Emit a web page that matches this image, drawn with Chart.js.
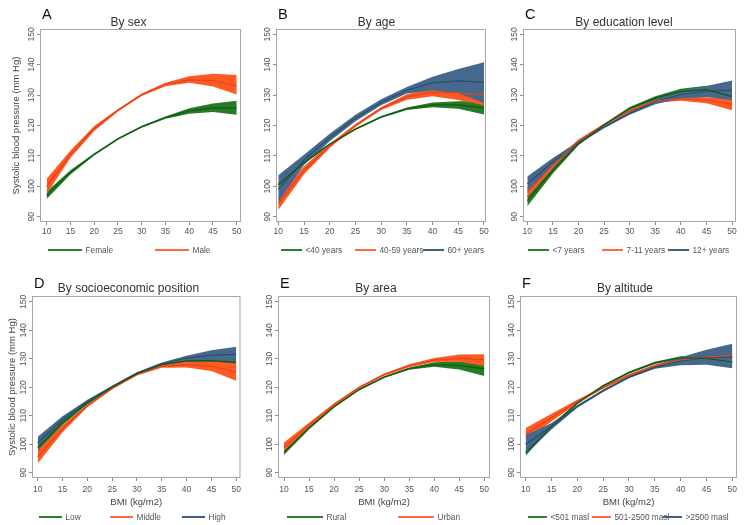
<!DOCTYPE html>
<html><head><meta charset="utf-8">
<script src="https://cdn.jsdelivr.net/npm/chart.js@4"></script>
<style>
html,body{margin:0;padding:0;background:#fff;}
body{width:747px;height:525px;position:relative;overflow:hidden;font-family:"Liberation Sans",Arial,sans-serif;}
canvas{position:absolute;}
.txt{position:absolute;white-space:nowrap;line-height:1;}
.leg{position:absolute;white-space:nowrap;font-size:8.3px;color:#555;line-height:10px;}
.legline{position:absolute;height:1.3px;}
</style></head><body>
<script>
// ---------- DATA ----------
const bmi = [10, 15, 20, 25, 30, 35, 40, 45, 50];
const xTicks = [10, 15, 20, 25, 30, 35, 40, 45, 50];
const yTicks = [90, 100, 110, 120, 130, 140, 150];

// A: By sex
const sexNames = ['Female', 'Male'];
const femaleMid = [97.0, 104.6, 110.5, 115.6, 119.6, 122.6, 124.8, 125.8, 125.8];
const femaleLo  = [95.8, 103.9, 110.1, 115.3, 119.3, 122.2, 123.9, 124.4, 123.5];
const femaleHi  = [98.3, 105.3, 110.9, 115.9, 119.9, 123.0, 125.7, 127.2, 128.1];
const maleMid   = [100.0, 110.5, 119.0, 125.0, 130.1, 133.5, 135.0, 134.8, 133.0];
const maleLo    = [97.5, 109.3, 118.2, 124.6, 129.7, 132.9, 134.1, 132.8, 130.2];
const maleHi    = [102.5, 111.8, 119.8, 125.4, 130.5, 134.1, 136.2, 137.0, 136.6];

// B: By age
const ageNames = ['<40 years', '40-59 years', '60+ years'];
const ageYMid = [100.5, 107.8, 113.8, 118.8, 122.8, 125.5, 126.8, 126.8, 125.8];
const ageYLo  = [99.8, 107.3, 113.4, 118.5, 122.5, 125.1, 126.0, 125.5, 123.6];
const ageYHi  = [101.2, 108.3, 114.2, 119.1, 123.1, 125.9, 127.6, 128.0, 128.0];
const ageMMid = [94.3, 105.3, 113.3, 120.0, 125.6, 129.4, 131.0, 130.8, 130.0];
const ageMLo  = [92.2, 104.0, 112.6, 119.5, 125.1, 128.5, 129.6, 128.4, 126.7];
const ageMHi  = [96.5, 106.6, 114.0, 120.5, 126.1, 130.3, 132.4, 133.2, 133.3];
const ageOMid = [99.0, 108.7, 116.0, 122.4, 127.6, 131.6, 134.0, 134.7, 134.2];
const ageOLo  = [94.8, 107.0, 114.8, 121.4, 126.7, 130.5, 131.6, 130.6, 127.4];
const ageOHi  = [103.6, 110.4, 117.3, 123.5, 128.6, 132.7, 136.0, 138.6, 140.8];

// C: By education level
const eduNames = ['<7 years', '7-11 years', '12+ years'];
const eduLMid = [95.3, 105.3, 114.0, 120.2, 125.6, 129.0, 131.2, 131.8, 129.5];
const eduLLo  = [93.4, 104.2, 113.5, 119.8, 125.1, 128.4, 130.3, 130.5, 126.5];
const eduLHi  = [97.2, 106.4, 114.5, 120.6, 126.1, 129.6, 132.1, 133.1, 132.6];
const eduMMid = [98.0, 107.0, 115.0, 120.3, 124.8, 128.0, 128.8, 128.3, 127.0];
const eduMLo  = [96.4, 106.0, 114.6, 120.0, 124.4, 127.5, 128.1, 127.3, 125.0];
const eduMHi  = [99.6, 108.0, 115.4, 120.6, 125.2, 128.5, 129.5, 129.3, 129.0];
const eduHMid = [100.8, 108.0, 114.3, 119.5, 124.0, 127.8, 130.2, 131.3, 131.6];
const eduHLo  = [98.5, 106.8, 113.8, 119.1, 123.5, 127.0, 128.9, 129.4, 128.4];
const eduHHi  = [103.2, 109.3, 114.8, 119.9, 124.5, 128.6, 131.5, 133.0, 134.8];

// D: By socioeconomic position
const sepNames = ['Low', 'Middle', 'High'];
const sepLMid = [98.8, 107.8, 114.5, 120.0, 124.8, 128.0, 129.3, 129.4, 128.8];
const sepLLo  = [97.0, 106.8, 114.0, 119.7, 124.5, 127.6, 128.6, 128.4, 127.0];
const sepLHi  = [100.6, 108.8, 115.0, 120.3, 125.1, 128.4, 130.0, 130.4, 130.6];
const sepMMid = [95.5, 105.5, 113.5, 119.6, 124.5, 127.4, 128.0, 127.4, 125.4];
const sepMLo  = [93.2, 104.2, 113.0, 119.3, 124.2, 126.9, 127.0, 125.7, 122.3];
const sepMHi  = [97.8, 106.8, 114.0, 119.9, 124.8, 127.9, 129.0, 129.1, 128.5];
const sepHMid = [100.5, 108.8, 115.0, 120.3, 125.0, 128.3, 130.3, 131.3, 131.6];
const sepHLo  = [98.8, 107.9, 114.5, 120.0, 124.7, 127.9, 129.5, 129.6, 128.8];
const sepHHi  = [102.6, 109.8, 115.6, 120.6, 125.3, 128.7, 131.1, 133.0, 134.3];

// E: By area
const areaNames = ['Rural', 'Urban'];
const ruralMid = [97.3, 105.8, 113.2, 119.2, 123.6, 126.6, 128.0, 127.7, 126.5];
const ruralLo  = [96.2, 105.2, 112.8, 118.9, 123.3, 126.2, 127.2, 126.3, 124.0];
const ruralHi  = [98.4, 106.4, 113.6, 119.5, 123.9, 127.0, 128.8, 129.1, 129.0];
const urbanMid = [98.9, 106.8, 113.9, 119.9, 124.5, 127.6, 129.6, 130.2, 129.7];
const urbanLo  = [97.3, 105.9, 113.4, 119.5, 124.1, 127.1, 128.9, 129.0, 127.5];
const urbanHi  = [100.6, 107.6, 114.4, 120.3, 124.9, 128.1, 130.3, 131.5, 131.6];

// F: By altitude
const altNames = ['<501 masl', '501-2500 masl', '>2500 masl'];
const altLMid = [97.0, 106.3, 114.5, 120.5, 125.2, 128.6, 130.4, 130.2, 128.9];
const altLLo  = [96.0, 105.8, 114.1, 120.1, 124.8, 128.2, 129.9, 129.3, 127.4];
const altLHi  = [98.2, 106.8, 114.9, 120.9, 125.6, 129.0, 130.9, 131.1, 130.4];
const altMMid = [103.5, 109.3, 115.0, 119.9, 124.2, 127.6, 129.6, 130.6, 131.2];
const altMLo  = [101.5, 108.0, 114.4, 119.5, 123.8, 127.2, 129.0, 129.5, 129.0];
const altMHi  = [105.7, 110.7, 115.6, 120.3, 124.6, 128.0, 130.2, 131.7, 133.3];
const altHMid = [100.0, 106.3, 113.3, 118.8, 123.6, 127.0, 129.3, 130.5, 130.6];
const altHLo  = [96.5, 105.2, 112.8, 118.4, 123.2, 126.5, 127.8, 127.9, 126.7];
const altHHi  = [103.2, 107.5, 113.8, 119.2, 124.0, 127.5, 130.6, 133.2, 135.3];

// ---------- STYLE ----------
const FONT = '"Liberation Sans", Arial, sans-serif';
const GREEN = {fill: '#267b26', line: '#145a14', leg: '#2f7f2f'};
const ORANGE = {fill: '#ff5a23', line: '#e2441b', leg: '#ff6a3f'};
const BLUE = {fill: '#45698d', line: '#2d4c6c', leg: '#3f6085'};

const panels = [
  {letter: 'A', title: 'By sex', row: 0, cell: [0, 0, 245, 262], box: [40, 29, 241, 222], xr: [8.59, 50.9], padL: 5, ytitle: true, ytPad: 6,
   titleX: 128.5, legX: [48, 155], legLen: 34,
   series: [[sexNames[0], femaleLo, femaleMid, femaleHi, GREEN], [sexNames[1], maleLo, maleMid, maleHi, ORANGE]]},
  {letter: 'B', title: 'By age', row: 0, cell: [245, 0, 495, 262], box: [276, 29, 486, 222], xr: [9.55, 50.39], padL: 0, ytitle: false,
   titleX: 376.5, legX: [281, 355, 423], legLen: 21,
   series: [[ageNames[0], ageYLo, ageYMid, ageYHi, GREEN], [ageNames[1], ageMLo, ageMMid, ageMHi, ORANGE], [ageNames[2], ageOLo, ageOMid, ageOHi, BLUE]]},
  {letter: 'C', title: 'By education level', row: 0, cell: [495, 0, 747, 262], box: [523, 29, 736, 222], xr: [9.16, 50.78], padL: 0, ytitle: false,
   titleX: 624, legX: [528, 602, 668], legLen: 21,
   series: [[eduNames[0], eduLLo, eduLMid, eduLHi, GREEN], [eduNames[1], eduMLo, eduMMid, eduMHi, ORANGE], [eduNames[2], eduHLo, eduHMid, eduHHi, BLUE]]},
  {letter: 'D', title: 'By socioeconomic position', row: 1, cell: [0, 262, 245, 525], box: [32, 296, 241, 478], xr: [8.85, 50.86], padL: 0, ytitle: true, ytPad: 7,
   titleX: 128.5, legX: [39, 110, 182], legLen: 23,
   series: [[sepNames[0], sepLLo, sepLMid, sepLHi, GREEN], [sepNames[1], sepMLo, sepMMid, sepMHi, ORANGE], [sepNames[2], sepHLo, sepHMid, sepHHi, BLUE]]},
  {letter: 'E', title: 'By area', row: 1, cell: [245, 262, 495, 525], box: [278, 296, 490, 478], xr: [8.8, 51.14], padL: 0, ytitle: false,
   titleX: 376, legX: [287, 398], legLen: 36,
   series: [[areaNames[0], ruralLo, ruralMid, ruralHi, GREEN], [areaNames[1], urbanLo, urbanMid, urbanHi, ORANGE]]},
  {letter: 'F', title: 'By altitude', row: 1, cell: [495, 262, 747, 525], box: [520, 296, 737, 478], xr: [8.9, 50.91], padL: 0, ytitle: false,
   titleX: 625, legX: [528, 592, 663], legLen: 19,
   series: [[altNames[0], altLLo, altLMid, altLHi, GREEN], [altNames[1], altMLo, altMMid, altMHi, ORANGE], [altNames[2], altHLo, altHMid, altHHi, BLUE]]}
];
const rowCfg = [
  {yr: [88.26, 151.74], xAxisH: 20, xtPad: 1.5, letterBase: 19.3, titleBase: 26.5, legY: 250, xtitle: false},
  {yr: [88.14, 152.1], xAxisH: 30, xtPad: 4, letterBase: 288.5, titleBase: 292.5, legY: 517, xtitle: true}
];

const framePlugin = {
  id: 'frame',
  afterDraw(chart) {
    const {ctx, chartArea: a} = chart;
    ctx.save();
    ctx.strokeStyle = '#a8a8a8';
    ctx.lineWidth = 1;
    ctx.strokeRect(a.left + 0.5, a.top + 0.5, a.right - a.left - 1, a.bottom - a.top - 1);
    ctx.restore();
  }
};

function addText(txt, left, baseline, size, color, center) {
  const d = document.createElement('div');
  d.className = 'txt';
  d.textContent = txt;
  d.style.fontSize = size + 'px';
  d.style.color = color;
  d.style.left = left + 'px';
  d.style.top = (baseline - 0.8465 * size) + 'px';
  if (center) d.style.transform = 'translateX(-50%)';
  document.body.appendChild(d);
}

panels.forEach(p => {
  const r = rowCfg[p.row];
  const [cx, cy, cx2, cy2] = p.cell;
  const w = cx2 - cx, h = cy2 - cy;
  const [bl, bt, br, bb] = p.box;
  const cv = document.createElement('canvas');
  cv.width = w; cv.height = h;
  cv.style.left = cx + 'px'; cv.style.top = cy + 'px';
  cv.style.width = w + 'px'; cv.style.height = h + 'px';
  document.body.appendChild(cv);

  const datasets = [];
  const n = p.series.length;
  p.series.forEach((s, k) => {
    const [name, lo, mid, hi, col] = s;
    const ord = n - k + 1;
    const loIdx = datasets.length;
    datasets.push({label: name + ' lo', data: bmi.map((x, i) => ({x, y: lo[i]})), borderWidth: 0, borderColor: 'transparent',
      pointRadius: 0, fill: false, order: ord});
    datasets.push({label: name + ' hi', data: bmi.map((x, i) => ({x, y: hi[i]})), borderWidth: 0, borderColor: 'transparent',
      backgroundColor: col.fill, pointRadius: 0, fill: loIdx, order: ord});
  });
  p.series.forEach((s, k) => {
    const [name, lo, mid, hi, col] = s;
    datasets.push({label: name, data: bmi.map((x, i) => ({x, y: mid[i]})), borderColor: col.line, borderWidth: 1.2,
      pointRadius: 0, fill: false, order: 0});
  });

  const padBottom = (cy2 - bb) - r.xAxisH;
  const tickFont = {family: FONT, size: 8.5};
  new Chart(cv, {
    type: 'line',
    data: {datasets},
    options: {
      responsive: false, animation: false, devicePixelRatio: 1,
      layout: {padding: {left: p.padL, top: bt - cy, right: cx2 - br, bottom: padBottom}},
      elements: {line: {tension: 0}},
      plugins: {legend: {display: false}, tooltip: {enabled: false}, title: {display: false}},
      scales: {
        x: {
          type: 'linear', min: p.xr[0], max: p.xr[1],
          afterBuildTicks: sc => { sc.ticks = xTicks.map(v => ({value: v})); },
          afterFit: sc => { sc.height = r.xAxisH; },
          grid: {display: true, drawOnChartArea: false, drawTicks: true, tickLength: 3, color: '#8c8c8c'},
          border: {display: false},
          ticks: {font: tickFont, color: '#555', padding: r.xtPad, maxRotation: 0, autoSkip: false},
          title: {display: r.xtitle, text: 'BMI (kg/m2)', font: {family: FONT, size: 9.5}, color: '#444', padding: {top: 0, bottom: 0}}
        },
        y: {
          type: 'linear', min: r.yr[0], max: r.yr[1],
          afterBuildTicks: sc => { sc.ticks = yTicks.map(v => ({value: v})); },
          afterFit: sc => { sc.width = bl - cx - p.padL; },
          grid: {display: true, drawOnChartArea: false, drawTicks: true, tickLength: 3, color: '#8c8c8c'},
          border: {display: false},
          ticks: {font: tickFont, color: '#555', minRotation: 90, maxRotation: 90, crossAlign: 'center', padding: -1.5, autoSkip: false},
          title: {display: p.ytitle, text: 'Systolic blood pressure (mm Hg)', font: {family: FONT, size: 9.5}, color: '#444',
                  padding: {top: p.ytPad || 0, bottom: 0}}
        }
      }
    },
    plugins: [framePlugin]
  });

  // panel letter and title
  addText(p.letter, bl + 2, r.letterBase, 14.5, '#111', false);
  addText(p.title, p.titleX, r.titleBase, 12, '#333', true);

  // legend
  p.series.forEach((s, k) => {
    const [name, , , , col] = s;
    const lx = p.legX[k];
    const ln = document.createElement('div');
    ln.className = 'legline';
    ln.style.left = lx + 'px'; ln.style.top = (r.legY - 0.65) + 'px';
    ln.style.width = p.legLen + 'px'; ln.style.background = col.leg;
    document.body.appendChild(ln);
    const t = document.createElement('div');
    t.className = 'leg';
    t.textContent = name;
    t.style.left = (lx + p.legLen + 3.5) + 'px';
    t.style.top = (r.legY - 5) + 'px';
    document.body.appendChild(t);
  });
});
</script>
</body></html>
